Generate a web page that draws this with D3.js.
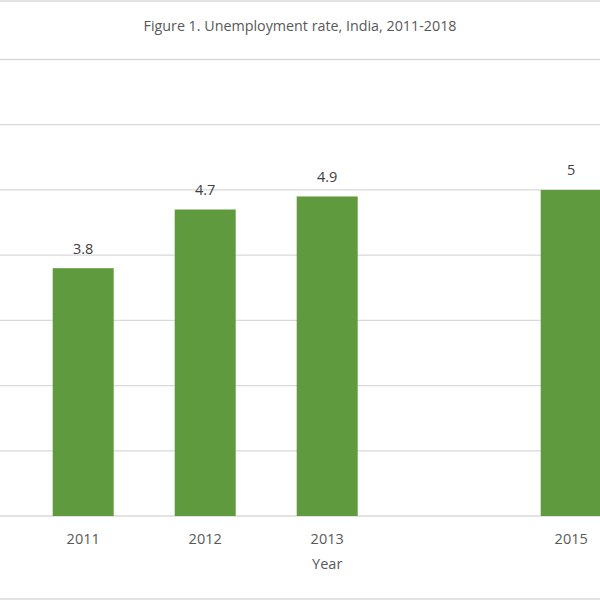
<!DOCTYPE html>
<html>
<head>
<meta charset="utf-8">
<script src="https://cdn.jsdelivr.net/npm/d3@7"></script>
<style>
  body { margin: 0; background: #fff; }
  svg { display: block; }
</style>
</head>
<body>
<svg id="chart"></svg>
<script>
// podatki
var years = ["2011", "2012", "2013", "2014", "2015"];
var tickLabels = ["2011", "2012", "2013", "", "2015"];
var rates = [3.8, 4.7, 4.9, null, 5];
var yTicks = [0, 1, 2, 3, 4, 5, 6, 7];

var title = "Figure 1. Unemployment rate, India, 2011-2018";
var xTitle = "Year";

const width = 600;
const height = 600;
const margin = {top: 59.5, bottom: 84, left: 0, right: 0};

const svg = d3.select("#chart")
  .attr("width", width)
  .attr("height", height);

// meje grafa (okvir zgoraj in spodaj)
svg.append("line")
  .attr("x1", 0).attr("x2", width)
  .attr("y1", 1).attr("y2", 1)
  .attr("stroke", "#d9d9d9").attr("stroke-width", 1.5);
svg.append("line")
  .attr("x1", 0).attr("x2", width)
  .attr("y1", 599).attr("y2", 599)
  .attr("stroke", "#d9d9d9").attr("stroke-width", 1.5);

const xScale = d3.scaleBand()
  .domain(years)
  .range([22.2, 22.2 + 610])
  .paddingInner(0.5)
  .paddingOuter(0.25);

const yScale = d3.scaleLinear()
  .domain([0, 7])
  .range([height - margin.bottom, margin.top]);

// mreža
svg.append("g")
  .selectAll("line")
  .data(yTicks)
  .enter().append("line")
    .attr("x1", 0)
    .attr("x2", width)
    .attr("y1", d => yScale(d))
    .attr("y2", d => yScale(d))
    .attr("stroke", "#d9d9d9")
    .attr("stroke-width", 1.3);

// stolpci
const data = years.map((y, i) => ({year: y, rate: rates[i]})).filter(d => d.rate != null);

svg.append("g")
  .attr("fill", "#609a3e")
  .selectAll("rect")
  .data(data)
  .enter().append("rect")
    .attr("x", d => xScale(d.year))
    .attr("y", d => yScale(d.rate))
    .attr("width", xScale.bandwidth())
    .attr("height", d => yScale(0) - yScale(d.rate));

// oznake vrednosti
svg.append("g")
  .selectAll("text")
  .data(data)
  .enter().append("text")
    .attr("x", d => xScale(d.year) + xScale.bandwidth() / 2)
    .attr("y", d => yScale(d.rate) - 14.5)
    .attr("text-anchor", "middle")
    .style("font-family", "'Open Sans', sans-serif")
    .style("font-size", "14.5px")
    .style("fill", "#404040")
    .text(d => d.rate);

// x os
const xAxis = svg.append("g")
  .attr("transform", `translate(0, ${yScale(0)})`)
  .call(d3.axisBottom(xScale).tickSize(0).tickPadding(17.5).tickFormat((d, i) => tickLabels[i]));
xAxis.select(".domain").remove();
xAxis.selectAll("text")
  .style("font-family", "'Open Sans', sans-serif")
  .style("font-size", "14.5px")
  .style("fill", "#595959");

// naslov osi
svg.append("text")
  .attr("x", xScale("2013") + xScale.bandwidth() / 2)
  .attr("y", 569)
  .attr("text-anchor", "middle")
  .style("font-family", "'Open Sans', sans-serif")
  .style("font-size", "14.5px")
  .style("fill", "#595959")
  .text(xTitle);

// naslov
svg.append("text")
  .attr("x", width / 2)
  .attr("y", 31)
  .attr("text-anchor", "middle")
  .style("font-family", "'Open Sans', sans-serif")
  .style("font-size", "14.3px")
  .style("fill", "#595959")
  .text(title);
</script>
</body>
</html>
